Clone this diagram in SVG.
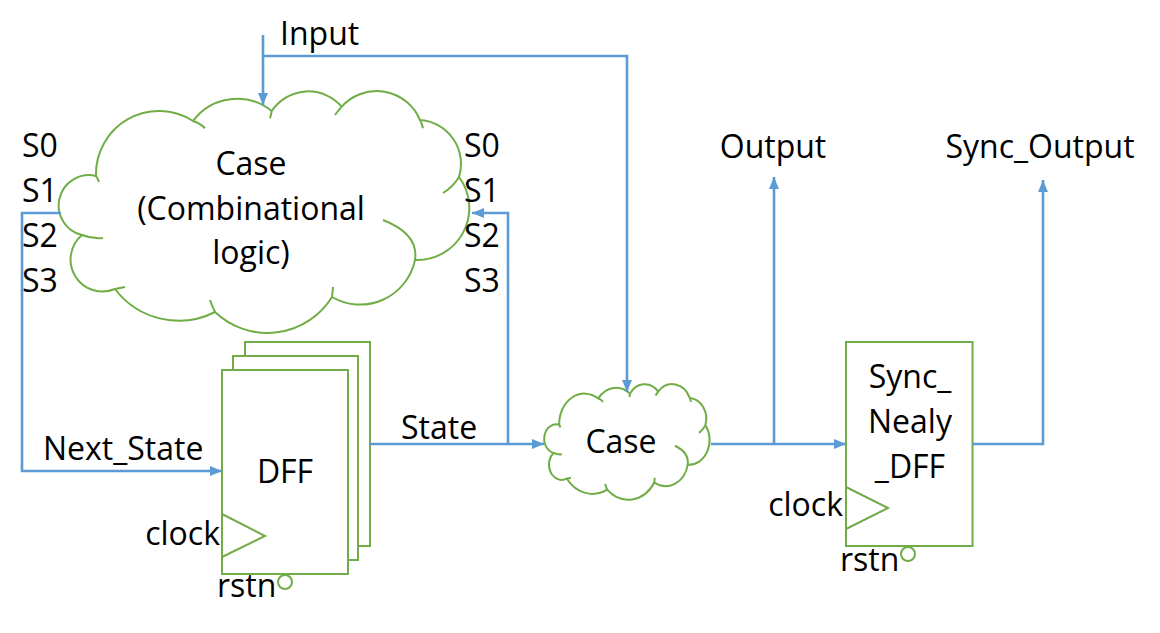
<svg xmlns="http://www.w3.org/2000/svg" xmlns:xlink="http://www.w3.org/1999/xlink" width="1160" height="633" viewBox="0 0 1160 633">
<style>
.shape{fill:#fff;stroke:#70AD47;stroke-width:2}
.tail{fill:none;stroke:#70AD47;stroke-width:2}
.wire{fill:none;stroke:#5B9BD5;stroke-width:2.6}
.lbl{font-family:"Open Sans","Liberation Sans",sans-serif;font-size:32px;fill:#000}
.mid{text-anchor:middle}
.end{text-anchor:end}
</style>
<defs>
<marker id="arr" markerUnits="userSpaceOnUse" markerWidth="12" markerHeight="10" viewBox="0 0 12 10" refX="12" refY="5" orient="auto">
<path d="M0,0 L12,5 L0,10 z" fill="#5B9BD5"/>
</marker>
<path id="cloudOutline" vector-effect="non-scaling-stroke" d="M96 176 A63 63 0 0 1 193 121 A55 55 0 0 1 271.7 111 A44 44 0 0 1 341.7 106.7 A47 47 0 0 1 420 120 A44 44 0 0 1 459 177 A52 52 0 0 1 415 260 A56 56 0 0 1 332 297 A76 76 0 0 1 215 312 A80 80 0 0 1 115 289 A32 32 0 0 1 82 235 A30.3 30.3 0 0 1 96 176 Z"/>
<path id="cloudTails" vector-effect="non-scaling-stroke" d="M193 121 Q200 123 205 128.3 M271.7 111 Q271 115 270 118.3 M341.7 106.7 Q338 111 335 115 M420 120 Q422 124 423 128.3 M459 177 Q453 187 443 193 M415 260 Q419 234 383 220 M332 297 Q332.5 292 333 287 M215 312 Q212 306 210 300 M115 289 Q120 288 125 287 M82 235 Q92 239 103 238 M96 176 Q98 179 99 182"/>
</defs>

<g id="node-comb-cloud">
<use xlink:href="#cloudOutline" href="#cloudOutline" class="shape"/>
<use xlink:href="#cloudTails" href="#cloudTails" class="tail"/>
<text class="lbl mid" x="251" y="175">Case</text>
<text class="lbl mid" x="251" y="220">(Combinational</text>
<text class="lbl mid" x="251" y="264">logic)</text>
</g>

<g id="state-labels-left">
<text class="lbl" x="22" y="157">S0</text>
<text class="lbl" x="22" y="202">S1</text>
<text class="lbl" x="22" y="247">S2</text>
<text class="lbl" x="22" y="292">S3</text>
</g>
<g id="state-labels-right">
<text class="lbl" x="464" y="157">S0</text>
<text class="lbl" x="464" y="202">S1</text>
<text class="lbl" x="464" y="247">S2</text>
<text class="lbl" x="464" y="292">S3</text>
</g>

<g id="node-dff">
<rect class="shape" x="245" y="342" width="125" height="204"/>
<rect class="shape" x="233" y="356" width="125" height="204"/>
<rect class="shape" x="222" y="370" width="126" height="204"/>
<path class="tail" d="M222 514 L265 536 L222 557"/>
<circle class="shape" cx="285" cy="582" r="7"/>
<text class="lbl mid" x="285" y="483">DFF</text>
<text class="lbl end" x="220" y="545">clock</text>
<text class="lbl" x="217" y="597">rstn</text>
</g>

<g id="node-case-cloud">
<g transform="matrix(0.4029 0 0 0.4781 520.53 340.54)">
<use xlink:href="#cloudOutline" href="#cloudOutline" class="shape"/>
<use xlink:href="#cloudTails" href="#cloudTails" class="tail"/>
</g>
<text class="lbl mid" x="621" y="453">Case</text>
</g>

<g id="node-sync-dff">
<rect class="shape" x="846" y="342" width="126.5" height="204"/>
<path class="tail" d="M846 487 L888 508 L846 529"/>
<circle class="shape" cx="908" cy="554" r="7"/>
<text class="lbl mid" x="910" y="388">Sync_</text>
<text class="lbl mid" x="910" y="433">Nealy</text>
<text class="lbl mid" x="910" y="478">_DFF</text>
<text class="lbl end" x="843" y="516">clock</text>
<text class="lbl" x="840" y="571">rstn</text>
</g>

<g id="connectors">
<path class="wire" d="M263 35 V105" marker-end="url(#arr)"/>
<path class="wire" d="M263 56 H627 V392" marker-end="url(#arr)"/>
<path class="wire" d="M61 213 H22 V471 H222" marker-end="url(#arr)"/>
<path class="wire" d="M370 444 H544" marker-end="url(#arr)"/>
<path class="wire" d="M508 444 V213 H472" marker-end="url(#arr)"/>
<path class="wire" d="M711 444 H846" marker-end="url(#arr)"/>
<path class="wire" d="M774 444 V177" marker-end="url(#arr)"/>
<path class="wire" d="M972.5 444 H1043 V180" marker-end="url(#arr)"/>
</g>

<g id="wire-labels">
<text class="lbl" x="280" y="45">Input</text>
<text class="lbl" x="43" y="460">Next_State</text>
<text class="lbl" x="401" y="439">State</text>
<text class="lbl mid" x="773" y="158">Output</text>
<text class="lbl mid" x="1040" y="158">Sync_Output</text>
</g>
</svg>
